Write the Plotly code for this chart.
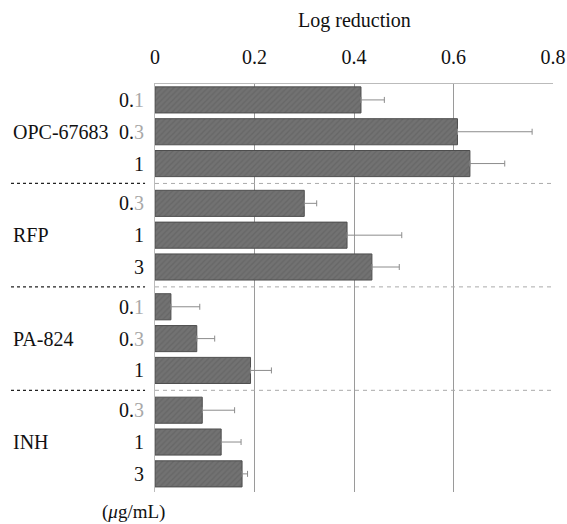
import plotly.graph_objects as go

groups = ["OPC-67683", "RFP", "PA-824", "INH"]
conc_labels = [["0.1", "0.3", "1"], ["0.3", "1", "3"], ["0.1", "0.3", "1"], ["0.3", "1", "3"]]
log_reduction = [[0.414, 0.608, 0.633], [0.300, 0.386, 0.436], [0.032, 0.084, 0.192], [0.095, 0.133, 0.175]]
error_plus = [[0.047, 0.150, 0.070], [0.025, 0.110, 0.055], [0.058, 0.036, 0.042], [0.065, 0.040, 0.011]]
x_ticks = [0, 0.2, 0.4, 0.6, 0.8]
x_ticktext = ["0", "0.2", "0.4", "0.6", "0.8"]

GAP = 3.25
pos, vals, errs, ticktext = [], [], [], []
for g in range(len(groups)):
    for i in range(3):
        pos.append(g * GAP + i)
        vals.append(log_reduction[g][i])
        errs.append(error_plus[g][i])
        lab = conc_labels[g][i]
        if lab.startswith("0."):
            lab = "0.<span style='color:#a8a8a8'>" + lab[2:] + "</span>"
        ticktext.append(lab)

FONT = "Liberation Serif, Times New Roman, serif"

fig = go.Figure()
fig.add_trace(go.Bar(
    x=vals, y=pos, orientation="h", width=0.82,
    marker=dict(color="#727272", line=dict(color="#4e4e4e", width=1),
                pattern=dict(shape="/", fgcolor="#5c5c5c", size=4, solidity=0.35)),
    error_x=dict(type="data", array=errs, arrayminus=[0] * len(errs), symmetric=False,
                 color="#8c8c8c", thickness=1, width=3),
    showlegend=False,
))

L, R, T, B = 155, 14, 84, 32
W, H = 567, 524
pw = W - L - R
ph = H - T - B
label_x = (11 - L) / pw

shapes = []
for g in range(len(groups) - 1):
    ysep = g * GAP + 2.625
    shapes.append(dict(type="line", xref="paper", yref="y", x0=label_x, x1=-0.025, y0=ysep, y1=ysep,
                       line=dict(color="#222", width=1.3, dash="3px,3px")))
    shapes.append(dict(type="line", xref="paper", yref="y", x0=0, x1=1, y0=ysep, y1=ysep,
                       line=dict(color="#aaaaaa", width=1, dash="4px,4px")))

annotations = []
for g, name in enumerate(groups):
    annotations.append(dict(text=name, xref="paper", yref="y", x=label_x, y=g * GAP + 1,
                            xanchor="left", yanchor="middle", showarrow=False,
                            font=dict(family=FONT, size=20, color="#111")))
annotations.append(dict(text="(<i>μ</i>g/mL)", xref="paper", yref="paper", x=(133 - L) / pw,
                        y=-(512 - (H - B)) / ph, xanchor="center", yanchor="middle",
                        showarrow=False, font=dict(family=FONT, size=19, color="#111")))
annotations.append(dict(text="Log reduction", xref="paper", yref="paper", x=0.5,
                        y=1 + (T - 20) / ph, xanchor="center", yanchor="middle",
                        showarrow=False, font=dict(family=FONT, size=20, color="#111")))

fig.update_layout(
    width=W, height=H, margin=dict(l=L, r=R, t=T, b=B, autoexpand=False),
    plot_bgcolor="white", paper_bgcolor="white",
    shapes=shapes, annotations=annotations,
    font=dict(family=FONT, color="#111"),
    xaxis=dict(side="top", range=[0, 0.8], tickvals=x_ticks, ticktext=x_ticktext,
               showgrid=True, gridcolor="#9a9a9a", gridwidth=1, zeroline=False,
               showline=True, linecolor="#bbbbbb", linewidth=1, mirror=False,
               ticks="", ticklabelstandoff=11, automargin=False,
               tickfont=dict(family=FONT, size=20)),
    yaxis=dict(range=[12.32, -0.5], tickvals=pos, ticktext=ticktext, showgrid=False, zeroline=False,
               showline=True, linecolor="#bbbbbb", linewidth=1, ticks="", ticklabelstandoff=6,
               automargin=False, tickfont=dict(family=FONT, size=20)),
)

fig.write_html("out.html")
